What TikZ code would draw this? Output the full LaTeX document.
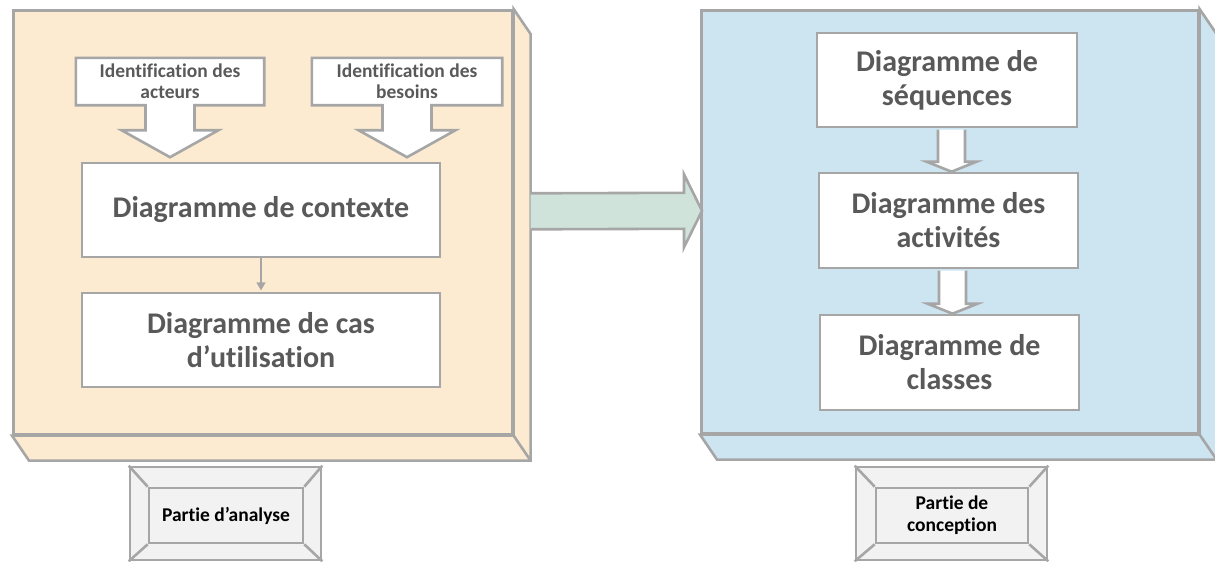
\documentclass[tikz,border=0pt]{standalone}
\usepackage{fontspec}
\setmainfont{Carlito}[Ligatures=NoCommon]
\usetikzlibrary{calc,arrows.meta}

\definecolor{edgegray}{HTML}{A6A6A6}
\definecolor{peach}{HTML}{FCEBD0}
\definecolor{paleblue}{HTML}{CDE4F1}
\definecolor{palegreen}{HTML}{CFE3DA}
\definecolor{labelgray}{HTML}{F2F2F2}
\definecolor{txtgray}{HTML}{595959}

\pgfdeclarelayer{back}
\pgfdeclarelayer{mid}
\pgfsetlayers{back,mid,main}

% right and bottom faces of a box seen in depth (#1 = front face node, #2 = colour)
\newcommand{\cuboidsides}[2]{%
  \filldraw[edge,fill=#2] (#1.north east) -- ++(17,25)
    -- ($(#1.south east)+(17,25)$) -- ($(#1.south west)+(17,25)$)
    -- (#1.south west) -- (#1.south east) -- cycle;
  \draw[edge] (#1.south east) -- ++(17,25);}

% rectangle with a block arrow pointing down below it
\newcommand{\calloutoutline}[1]{%
  \draw[edge,fill=white] (#1.north west) -- (#1.north east) -- (#1.south east)
    -- ($(#1.south)+(24.5,0)$) -- ($(#1.south)+(24.5,25)$) -- ($(#1.south)+(48.5,25)$)
    -- ($(#1.south)+(0,52)$)
    -- ($(#1.south)+(-48.5,25)$) -- ($(#1.south)+(-24.5,25)$) -- ($(#1.south)+(-24.5,0)$)
    -- (#1.south west) -- cycle;}

% white block arrow from the bottom of #1 to the top of #2
\newcommand{\blockarrow}[2]{%
  \draw[edge,fill=white] ($(#2.north |- #1.south)+(-10.5,1.3)$)
    -- ($(#2.north)+(-10.5,-10)$) -- ($(#2.north)+(-22,-10)$)
    -- ($(#2.north)+(3,0)$)
    -- ($(#2.north)+(28,-10)$) -- ($(#2.north)+(16.5,-10)$)
    -- ($(#2.north |- #1.south)+(16.5,1.3)$);}

\begin{document}
\begin{tikzpicture}[x=1pt,y=-1pt,
  edge/.style={draw=edgegray,line width=2.6pt},
  boxnode/.style={edge,rectangle,inner sep=0pt},
  frontface/.style={boxnode,anchor=north west},
  diagbox/.style={boxnode,fill=white,minimum width=259pt,minimum height=95pt,
    align=center,text=txtgray,font=\fontsize{30}{34}\selectfont\bfseries},
  idbox/.style={rectangle,inner sep=0pt,minimum height=47pt,align=center,
    text=txtgray,font=\fontsize{19.5}{21}\selectfont\bfseries},
  bevelout/.style={boxnode,fill=labelgray,minimum width=191pt,minimum height=93pt},
  bevelin/.style={boxnode,fill=labelgray,minimum height=55pt,align=center,
    font=\fontsize{19.5}{22}\selectfont\bfseries},
  thinarrow/.style={draw=edgegray,line width=1.2pt,shorten >=1.3pt,
    -{Triangle[length=8pt,width=9pt]}}
]
\useasboundingbox (0,0) rectangle (1215,562);

% ---------- the two blocks in depth and the arrow joining them ----------
\begin{pgfonlayer}{back}
  \node[frontface,fill=peach,minimum width=499pt,minimum height=424pt] (anaface) at (12,9) {};
  \cuboidsides{anaface}{peach}
  \node[frontface,fill=paleblue,minimum width=497pt,minimum height=423pt] (conface) at (700,9) {};
  \cuboidsides{conface}{paleblue}

  \coordinate (gstart) at ($(anaface.east)+(17,-11)$);
  \coordinate (gtip) at ($(conface.west)+(2,-11)$);
  \draw[edge,fill=palegreen] ($(gstart)+(0,-18)$) -- ($(gtip)+(-18,-18)$)
    -- ($(gtip)+(-18,-36.5)$) -- (gtip) -- ($(gtip)+(-18,36.5)$)
    -- ($(gtip)+(-18,18)$) -- ($(gstart)+(0,18)$);
\end{pgfonlayer}

% ---------- analysis part ----------
\node[idbox,minimum width=188pt] (idact) at (170,81.5) {Identification des\\acteurs};
\node[idbox,minimum width=190pt] (idbes) at (407,81.5) {Identification des\\besoins};
\node[diagbox,minimum width=358pt,minimum height=94pt] (ctx) at (261,210) {Diagramme de contexte};
\node[diagbox,minimum width=358pt,minimum height=94pt] (cas) at (261,340) {Diagramme de cas\\d’utilisation};
\draw[thinarrow] (ctx.south) -- (cas.north);

% ---------- design part ----------
\node[diagbox,minimum width=260pt,minimum height=94pt] (seq) at (947,80) {Diagramme de\\séquences};
\node[diagbox] (act) at (948.5,220.5) {Diagramme des\\activités};
\node[diagbox] (cls) at (949.5,362.5) {Diagramme de\\classes};

\begin{pgfonlayer}{mid}
  \calloutoutline{idact}
  \calloutoutline{idbes}
  \blockarrow{seq}{act}
  \blockarrow{act}{cls}
\end{pgfonlayer}

% ---------- bevelled captions ----------
\node[bevelout] (anaout) at (225.5,513.5) {};
\node[bevelin,minimum width=154pt] (analbl) at (226,515.5) {Partie d’analyse};
\foreach \c in {north west,north east,south west,south east}
  \draw[edge] (anaout.\c) -- (analbl.\c);

\node[bevelout] (conout) at (951.5,513.5) {};
\node[bevelin,minimum width=152pt] (conlbl) at (952,515.5) {Partie de\\conception};
\foreach \c in {north west,north east,south west,south east}
  \draw[edge] (conout.\c) -- (conlbl.\c);
\end{tikzpicture}
\end{document}
